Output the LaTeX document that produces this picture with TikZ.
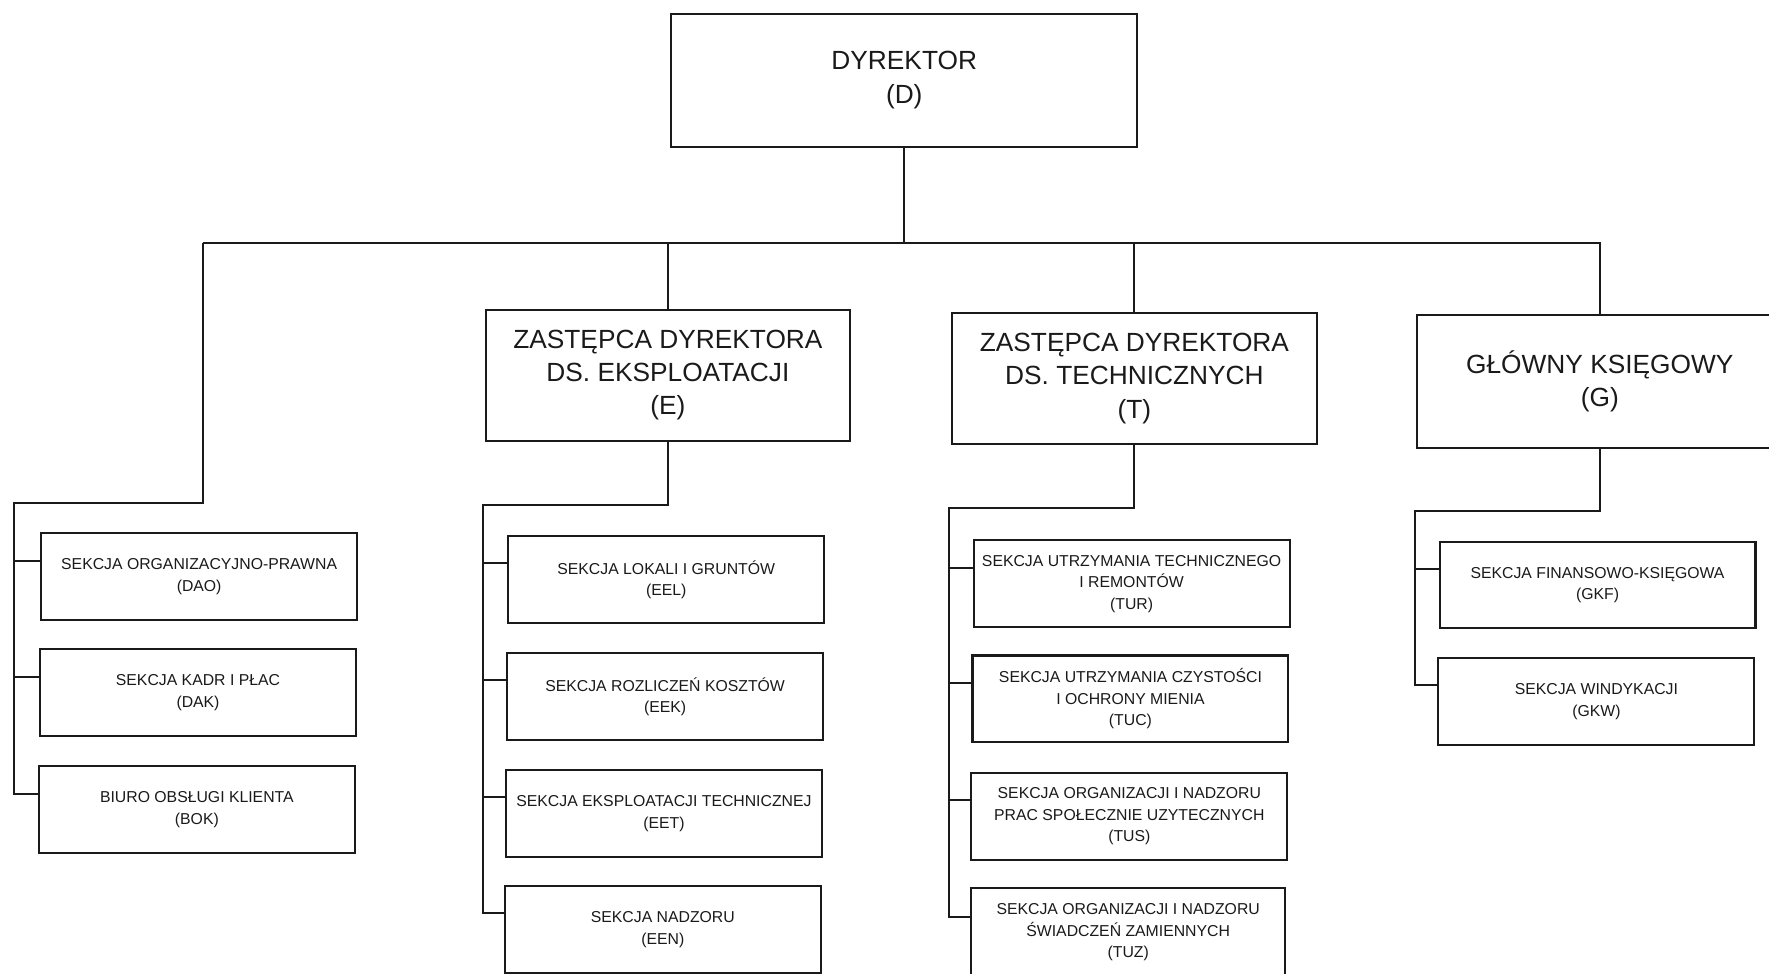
\documentclass[tikz,border=0pt]{standalone}
\usepackage{fontspec}
\setmainfont{Liberation Sans}
\definecolor{ink}{HTML}{1A1A1A}
\begin{document}
\begin{tikzpicture}[x=1pt,y=-1pt,line width=1.8pt,draw=ink,
  bigbox/.style={draw=ink,line width=1.8pt,align=center,text=ink,inner sep=0pt,
    font=\fontsize{23.3}{29.5}\selectfont,minimum width=323pt,minimum height=116pt},
  smallbox/.style={draw=ink,line width=1.8pt,align=center,text=ink,inner sep=0pt,
    font=\fontsize{14}{19}\selectfont,minimum width=280pt,minimum height=77pt},
  conn/.style={draw=ink,line width=1.8pt}]
\useasboundingbox (0,0) rectangle (1568,863);
\clip (0,0) rectangle (1568,863);
\fill[white] (0,0) rectangle (1568,863);
% top level
\node[bigbox,minimum width=413pt,minimum height=118pt] (D) at (801.5,71) {DYREKTOR\\(D)};
\node[bigbox] (E) at (592,332.5) {ZASTĘPCA DYREKTORA\\DS. EKSPLOATACJI\\(E)};
\node[bigbox] (T) at (1005.5,335.5) {ZASTĘPCA DYREKTORA\\DS. TECHNICZNYCH\\(T)};
\node[bigbox,minimum height=118pt,minimum width=324pt] (G) at (1418,338) {GŁÓWNY KSIĘGOWY\\(G)};
% director's sections
\node[smallbox] (DAO) at (176.5,511) {SEKCJA ORGANIZACYJNO-PRAWNA\\(DAO)};
\node[smallbox] (DAK) at (175.5,614) {SEKCJA KADR I PŁAC\\(DAK)};
\node[smallbox] (BOK) at (174.5,717.5) {BIURO OBSŁUGI KLIENTA\\(BOK)};
% E sections
\node[smallbox] (EEL) at (590.5,514) {SEKCJA LOKALI I GRUNTÓW\\(EEL)};
\node[smallbox] (EEK) at (589.5,617.5) {SEKCJA ROZLICZEŃ KOSZTÓW\\(EEK)};
\node[smallbox] (EET) at (588.5,721) {SEKCJA EKSPLOATACJI TECHNICZNEJ\\(EET)};
\node[smallbox] (EEN) at (587.5,824) {SEKCJA NADZORU\\(EEN)};
% T sections
\node[smallbox] (TUR) at (1003,517.5) {SEKCJA UTRZYMANIA TECHNICZNEGO\\I REMONTÓW\\(TUR)};
\node[smallbox] (TUC) at (1002,619.5) {SEKCJA UTRZYMANIA CZYSTOŚCI\\I OCHRONY MIENIA\\(TUC)};
\node[smallbox] (TUS) at (1001,723.5) {SEKCJA ORGANIZACJI I NADZORU\\PRAC SPOŁECZNIE UZYTECZNYCH\\(TUS)};
\node[smallbox,minimum width=278pt,minimum height=79pt] (TUZ) at (1000,826.5) {SEKCJA ORGANIZACJI I NADZORU\\ŚWIADCZEŃ ZAMIENNYCH\\(TUZ)};
% G sections
\node[smallbox] (GKF) at (1416,518.5) {SEKCJA FINANSOWO-KSIĘGOWA\\(GKF)};
\node[smallbox] (GKW) at (1415,622) {SEKCJA WINDYKACJI\\(GKW)};
% tick points on the left sides
\foreach \n/\s in {DAO/14,DAK/14,BOK/14,EEL/15,EEK/15,EET/15,EEN/15,TUR/14,TUC/14,TUS/14,TUZ/14,GKF/14,GKW/15}
  \coordinate (\n t) at ([yshift=\s pt]\n.west);
% main bus
\coordinate (busL) at (180,215);
\coordinate (busR) at (1418,215);
\draw[conn] (D.south) -- (D.south |- busL);
\draw[conn] (busL) -- (busR) -- (G.north);
\draw[conn] (E.north) -- (E.north |- busL);
\draw[conn] (T.north) -- (T.north |- busL);
% director's branch
\coordinate (dA) at (180,446);
\coordinate (dB) at (12,446);
\draw[conn] (busL) -- (dA) -- (dB) -- (dB |- BOKt) -- (BOKt);
\draw[conn] (dB |- DAOt) -- (DAOt);
\draw[conn] (dB |- DAKt) -- (DAKt);
% E branch
\coordinate (eA) at (592,448);
\coordinate (eB) at (428,448);
\draw[conn] (E.south) -- (eA) -- (eB) -- (eB |- EENt) -- (EENt);
\draw[conn] (eB |- EELt) -- (EELt);
\draw[conn] (eB |- EEKt) -- (EEKt);
\draw[conn] (eB |- EETt) -- (EETt);
% T branch
\coordinate (tA) at (1005.5,450);
\coordinate (tB) at (841,450);
\draw[conn] (T.south) -- (tA) -- (tB) -- (tB |- TUZt) -- (TUZt);
\draw[conn] (tB |- TURt) -- (TURt);
\draw[conn] (tB |- TUCt) -- (TUCt);
\draw[conn] (tB |- TUSt) -- (TUSt);
% G branch
\coordinate (gA) at (1418,453);
\coordinate (gB) at (1254,453);
\draw[conn] (G.south) -- (gA) -- (gB) -- (gB |- GKWt) -- (GKWt);
\draw[conn] (gB |- GKFt) -- (GKFt);
\end{tikzpicture}
\end{document}
